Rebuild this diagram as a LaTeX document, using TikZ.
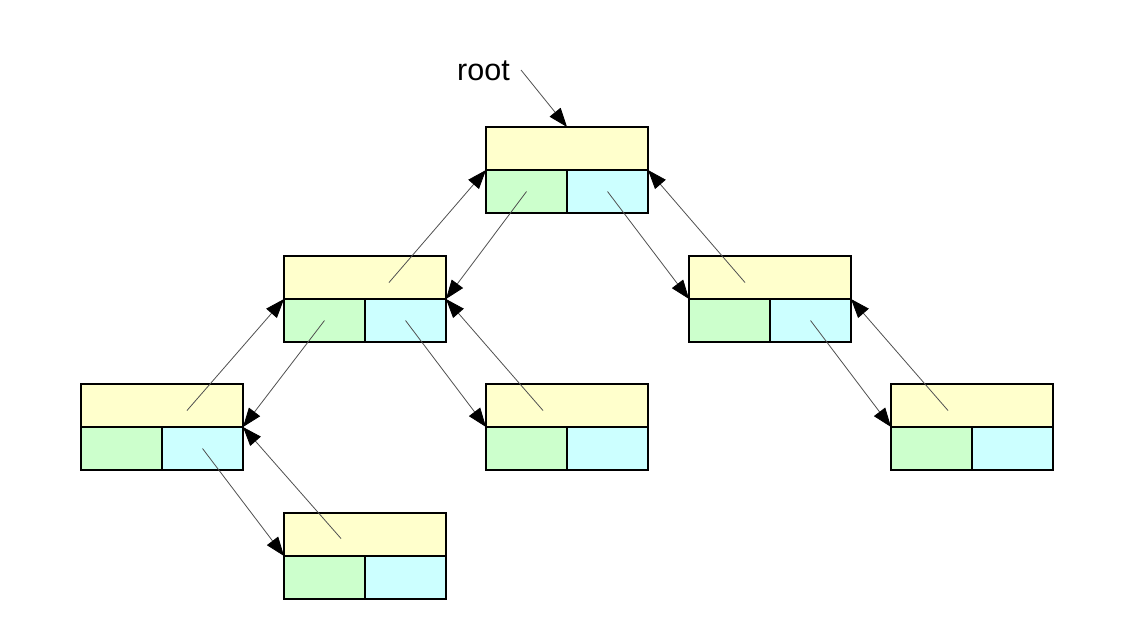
\documentclass[tikz,border=0pt]{standalone}
\usepackage{fontspec}
\setmainfont{Liberation Sans}
\usetikzlibrary{arrows.meta,calc}
\definecolor{keycol}{HTML}{FFFFCC}
\definecolor{leftcol}{HTML}{CCFFCC}
\definecolor{rightcol}{HTML}{CCFFFF}
\definecolor{linkcol}{HTML}{505050}
\tikzset{
  cell/.style={draw=black, line width=1.3pt, minimum height=43pt, inner sep=0pt, outer sep=0pt},
  keycell/.style={cell, fill=keycol, minimum width=162pt, anchor=north west},
  ptrcell/.style={cell, minimum width=81pt, anchor=north west},
  tip/.tip={Triangle[length=19pt,width=14pt,black]},
  link/.style={draw=linkcol, line width=0.8pt, -tip},
}
% one tree node: key field on top, left and right pointer fields below
\newcommand\treenode[3]{%
  \node[keycell] (#1) at (#2,-#3) {};
  \node[ptrcell, fill=leftcol] (#1-l) at (#1.south west) {};
  \node[ptrcell, fill=rightcol] (#1-r) at (#1-l.north east) {};
}
\begin{document}
\begin{tikzpicture}[x=1pt,y=1pt]
  \fill[white] (0,0) rectangle (1134,-643);
  \useasboundingbox (0,0) rectangle (1134,-643);

  \treenode{root}{486}{127}
  \treenode{L}{284}{256}
  \treenode{R}{689}{256}
  \treenode{LL}{81}{384}
  \treenode{LR}{486}{384}
  \treenode{RR}{891}{384}
  \treenode{LLR}{284}{513}

  \node[font=\fontsize{30.5}{36}\selectfont, anchor=base west, inner sep=0pt] (rootlabel) at (457,-80) {root};
  \coordinate (rootfrom) at (521,-70);
  \draw[link] (rootfrom) -- (root.north);

  % child pointers
  \draw[link] (root-l.center) -- (L.south east);
  \draw[link] (root-r.center) -- (R.south west);
  \draw[link] (L-l.center) -- (LL.south east);
  \draw[link] (L-r.center) -- (LR.south west);
  \draw[link] (LL-r.center) -- (LLR.south west);
  \draw[link] (R-r.center) -- (RR.south west);

  % parent pointers
  \draw[link] ($(L.center)+(24,-5)$) -- (root.south west);
  \draw[link] ($(R.center)+(-25,-5)$) -- (root.south east);
  \draw[link] ($(LL.center)+(25,-5)$) -- (L.south west);
  \draw[link] ($(LR.center)+(-24,-5)$) -- (L.south east);
  \draw[link] ($(RR.center)+(-24,-5)$) -- (R.south east);
  \draw[link] ($(LLR.center)+(-24,-4)$) -- (LL.south east);
\end{tikzpicture}
\end{document}
